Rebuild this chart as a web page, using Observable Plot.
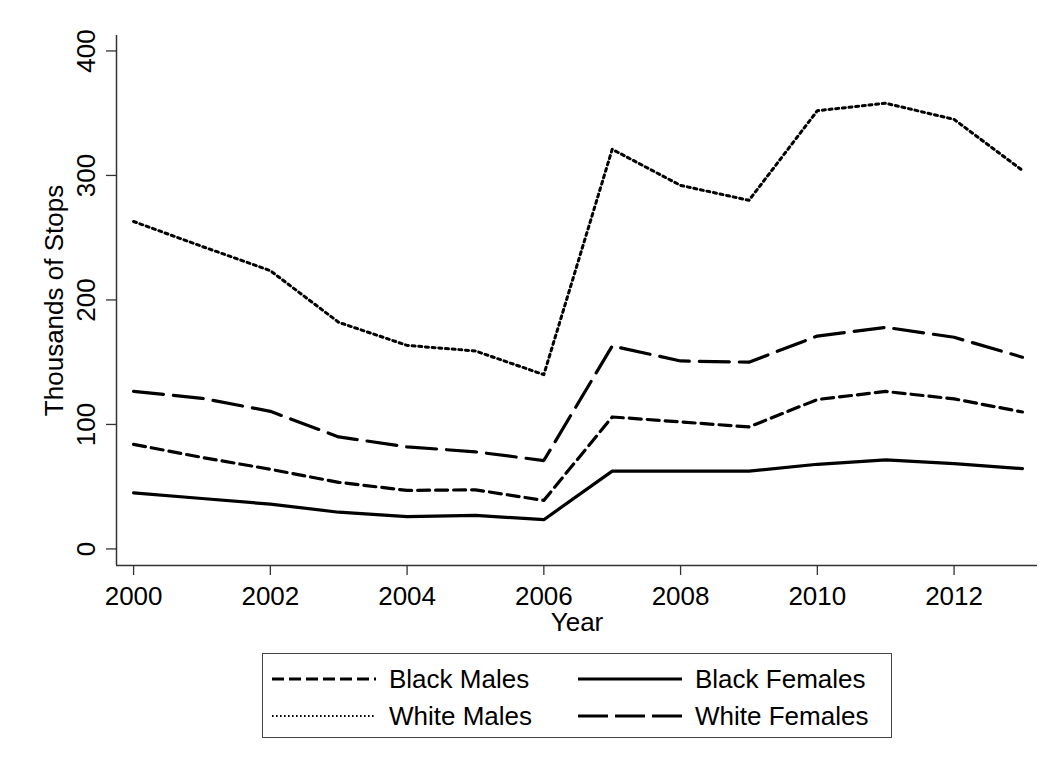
<!DOCTYPE html>
<html><head><meta charset="utf-8">
<script src="https://cdn.jsdelivr.net/npm/d3@7"></script>
<script src="https://cdn.jsdelivr.net/npm/@observablehq/plot@0.6"></script>
<style>
body{margin:0;background:#fff;font-family:"Liberation Sans",Arial,sans-serif;}
#wrap{position:relative;width:1053px;height:769px;overflow:hidden;background:#fff}
#topline{position:absolute;left:11px;right:0;top:5px;height:2px;background:#e9f0f1}
#chart{position:absolute;left:0;top:0}
#legend{position:absolute;left:262px;top:653px;width:628px;height:83px;border:1.5px solid #444;box-sizing:content-box}
#legend .item{position:absolute;display:flex;align-items:center;font-size:26px;color:#000;white-space:nowrap}
#legend svg{display:block;margin-right:13px}
</style></head>
<body><div id="wrap"><div id="topline"></div><div id="chart"></div><div id="legend"></div></div>
<script>
const years = [2000, 2001, 2002, 2003, 2004, 2005, 2006, 2007, 2008, 2009, 2010, 2011, 2012, 2013];
const blackMales   = [84, 73.5, 64, 53.5, 47, 47.5, 39, 106, 102, 98, 120, 126.5, 120.5, 110];
const blackFemales = [45, 40.5, 36, 29.5, 26, 27, 23.5, 62.5, 62.5, 62.5, 68, 71.5, 68.5, 64.5];
const whiteMales   = [263, 243, 223.5, 182, 163.5, 159, 140, 321, 292, 280, 352, 358, 345, 304];
const whiteFemales = [126.5, 121, 110.5, 90, 82, 78, 71, 163, 151, 150, 171, 178, 170, 154];
const seriesNames = ["Black Males", "Black Females", "White Males", "White Females"];
const xTicks = [2000, 2002, 2004, 2006, 2008, 2010, 2012];
const yTicks = [0, 100, 200, 300, 400];
const xDomain = [1999.75, 2013.22];
const yDomain = [-13.3, 412.4];

const styles = {
  "Black Males":   {strokeWidth: 3.2, dash: "12,6", legendDash: "12,5"},
  "Black Females": {strokeWidth: 3.2, dash: null, legendDash: null},
  "White Males":   {strokeWidth: 3, dash: "3,3.7", legendDash: "1.6,2.4", legendWidth: 1.8},
  "White Females": {strokeWidth: 3.2, dash: "30,10", legendDash: "30,7"}
};
const seriesValues = [blackMales, blackFemales, whiteMales, whiteFemales];
const rows = [];
seriesNames.forEach((name, k) => years.forEach((yr, i) => rows.push({year: yr, value: seriesValues[k][i], series: name})));

const font = "'Liberation Sans', Arial, sans-serif";
const chart = Plot.plot({
  width: 1053, height: 645,
  marginLeft: 116, marginRight: 16, marginTop: 35, marginBottom: 80,
  style: {fontFamily: font, fontSize: "26px", color: "#000", background: "white"},
  x: {domain: xDomain, label: null},
  y: {domain: yDomain, label: null},
  marks: [
    Plot.axisX({ticks: xTicks, tickSize: 10, tickPadding: 11, tickFormat: d => String(d), fontSize: 26, label: null, stroke: "#333", strokeWidth: 1.3}),
    Plot.axisY({ticks: yTicks, tickSize: 10, tickPadding: 12, tickRotate: -90, fontSize: 26, label: null, stroke: "#333", strokeWidth: 1.3}),
    Plot.ruleX([xDomain[0]], {stroke: "#333", strokeWidth: 1.5}),
    Plot.ruleY([yDomain[0]], {stroke: "#333", strokeWidth: 1.5}),
    ...seriesNames.map(name => Plot.line(rows.filter(r => r.series === name), {
      x: "year", y: "value", stroke: "#000",
      strokeWidth: styles[name].strokeWidth,
      strokeDasharray: styles[name].dash || undefined,
      strokeLinejoin: "round"
    })),
    Plot.text(["Thousands of Stops"], {text: d => d, frameAnchor: "left", textAnchor: "middle", lineAnchor: "middle", rotate: -90, dx: -62, fontSize: 26, fill: "#000"}),
    Plot.text(["Year"], {text: d => d, frameAnchor: "bottom", textAnchor: "middle", lineAnchor: "middle", dy: 57, fontSize: 26, fill: "#000"})
  ]
});
document.getElementById("chart").appendChild(chart);

// legend
const legend = document.getElementById("legend");
const pos = [
  {left: 9, top: 25}, {left: 315, top: 25},
  {left: 9, top: 62}, {left: 315, top: 62}
];
seriesNames.forEach((name, k) => {
  const st = styles[name];
  const div = document.createElement("div");
  div.className = "item";
  div.style.left = pos[k].left + "px";
  div.style.top = (pos[k].top - 15) + "px";
  div.style.height = "30px";
  const ns = "http://www.w3.org/2000/svg";
  const svg = document.createElementNS(ns, "svg");
  svg.setAttribute("width", 104); svg.setAttribute("height", 10);
  const ln = document.createElementNS(ns, "line");
  ln.setAttribute("x1", 0); ln.setAttribute("x2", 104);
  ln.setAttribute("y1", 5); ln.setAttribute("y2", 5);
  ln.setAttribute("stroke", "#000");
  ln.setAttribute("stroke-width", st.legendWidth || 3.2);
  if (st.legendDash) ln.setAttribute("stroke-dasharray", st.legendDash);
  svg.appendChild(ln);
  div.appendChild(svg);
  const sp = document.createElement("span");
  sp.textContent = name;
  div.appendChild(sp);
  legend.appendChild(div);
});
</script>
</body></html>
